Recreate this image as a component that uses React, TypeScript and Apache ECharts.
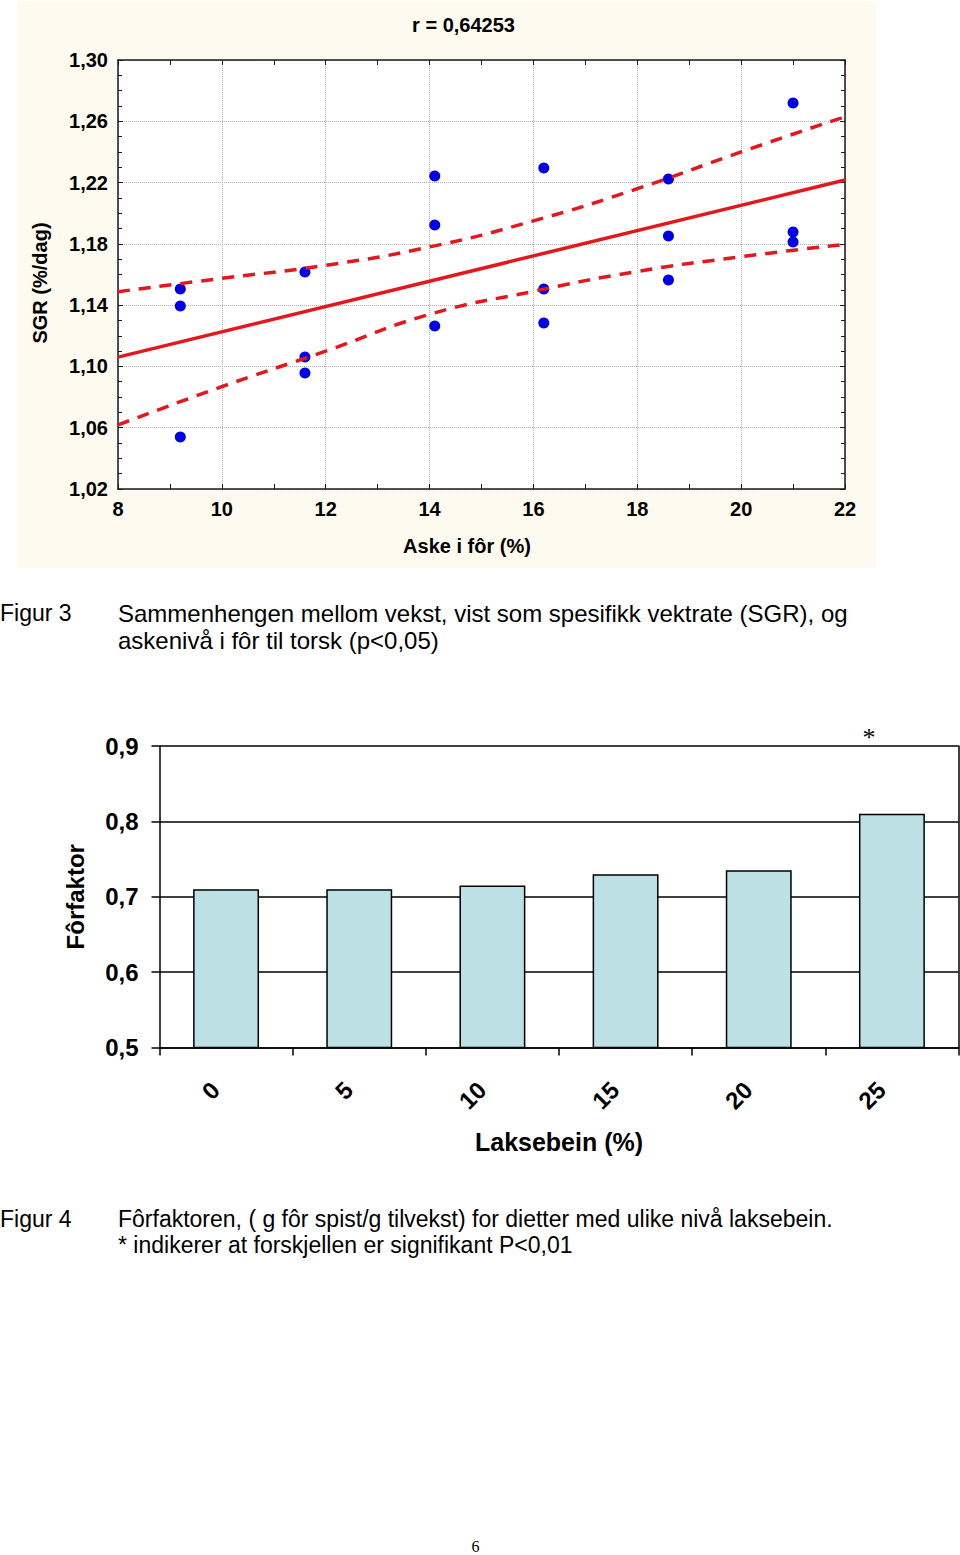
import React, { useEffect, useRef } from "react";
import * as echarts from "echarts";

// ---- Figure 3: scatter (ash in feed vs SGR) ----
const ashX = [9.2, 9.2, 9.2, 11.6, 11.6, 11.6, 14.1, 14.1, 14.1, 16.2, 16.2, 16.2, 18.6, 18.6, 18.6, 21.0, 21.0, 21.0];
const sgrY = [1.1505, 1.1394, 1.0539, 1.1616, 1.1061, 1.0957, 1.2243, 1.1923, 1.1264, 1.2295, 1.1505, 1.1283, 1.2223, 1.1851, 1.1564, 1.2719, 1.1877, 1.1812];
const fitX = [8, 22];
const fitY = [1.1061, 1.2217];
const bandX = [8, 10, 12, 14, 16, 18, 20, 22];
const bandUpper = [1.1488, 1.1575, 1.166, 1.178, 1.195, 1.216, 1.24, 1.263];
const bandLower = [1.0618, 1.0868, 1.11, 1.134, 1.149, 1.162, 1.1716, 1.1797];
const scatterTitle = "r = 0,64253";

// ---- Figure 4: bars ----
const barCats = ["0", "5", "10", "15", "20", "25"];
const barVals = [0.71, 0.71, 0.715, 0.73, 0.735, 0.81];

const SANS = "'Liberation Sans', Arial, Helvetica, sans-serif";
const SERIF = "'Liberation Serif', 'Times New Roman', serif";
const RED = "#E3171C";
const AX = "#1a1a1a";

const comma = (d: number) => (v: number) => v.toFixed(d).replace(".", ",");

export default function App() {
  const ref = useRef<HTMLDivElement>(null);
  useEffect(() => {
    if (!ref.current) return;
    const chart = echarts.init(ref.current, undefined, { renderer: "svg" });
    const zip = (xs: number[], ys: number[]) => xs.map((x, i) => [x, ys[i]]);
    const lab = (size: number) => ({ color: "#000", fontFamily: SANS, fontWeight: "bold" as const, fontSize: size });
    const scatterX = (pos: "bottom" | "top") => ({
      type: "value", gridIndex: 0, position: pos, min: 8, max: 22, interval: 2,
      axisLine: { show: true, onZero: false, lineStyle: { color: AX, width: 1.5 } },
      axisTick: { show: true, inside: true, length: 5, lineStyle: { color: AX, width: 1 } },
      minorTick: { show: true, splitNumber: 2, length: 5, lineStyle: { color: AX, width: 1 } },
      axisLabel: { show: pos === "bottom", margin: 10, ...lab(20) },
      splitLine: { show: pos === "bottom", lineStyle: { type: "dotted", color: "#b0b0b0", width: 1 } },
    });
    const scatterY = (pos: "left" | "right") => ({
      type: "value", gridIndex: 0, position: pos, min: 1.02, max: 1.30, interval: 0.04,
      axisLine: { show: true, onZero: false, lineStyle: { color: AX, width: 1.5 } },
      axisTick: { show: true, inside: true, length: 5, lineStyle: { color: AX, width: 1 } },
      minorTick: { show: true, splitNumber: 4, length: 4, lineStyle: { color: AX, width: 1 } },
      axisLabel: { show: pos === "left", margin: 10, formatter: comma(2), ...lab(20) },
      splitLine: { show: pos === "left", lineStyle: { type: "dotted", color: "#b0b0b0", width: 1 } },
    });
    const cap = (x: number, y: number, text: string, size: number) => ({
      type: "text", x, y, style: { text, textVerticalAlign: "middle", font: `${size}px ${SANS}`, fill: "#000" },
    });
    const option: any = {
      animation: false,
      backgroundColor: "#ffffff",
      grid: [
        { left: 118, top: 60, width: 727, height: 429, show: true, backgroundColor: "#ffffff", borderWidth: 0 },
        { left: 159.5, top: 746, width: 799, height: 301.5 },
      ],
      xAxis: [
        { ...scatterX("bottom"), name: "Aske i fôr (%)", nameLocation: "middle", nameGap: 47,
          nameTextStyle: { ...lab(20), padding: [0, 29, 0, 0] } },
        scatterX("top"),
        {
          type: "category", gridIndex: 1, data: barCats,
          axisLine: { show: true, lineStyle: { color: "#000", width: 1.5 } },
          axisTick: { show: true, inside: false, length: 8, lineStyle: { color: "#000", width: 1.5 } },
          axisLabel: { rotate: 45, margin: 49, verticalAlign: "bottom", lineHeight: 30, ...lab(24) },
          name: "Laksebein (%)", nameLocation: "middle", nameGap: 82, nameTextStyle: lab(25),
        },
      ],
      yAxis: [
        { ...scatterY("left"), name: "SGR (%/dag)", nameLocation: "middle", nameGap: 68,
          nameTextStyle: { ...lab(20), padding: [0, 17, 0, 0] } },
        scatterY("right"),
        {
          type: "value", gridIndex: 1, min: 0.5, max: 0.9, interval: 0.1,
          axisLine: { show: true, lineStyle: { color: "#000", width: 1.5 } },
          axisTick: { show: true, inside: false, length: 8, lineStyle: { color: "#000", width: 1.5 } },
          axisLabel: { margin: 21, formatter: comma(1), ...lab(24) },
          splitLine: { show: true, lineStyle: { color: "#000", width: 1.5 } },
          name: "Fôrfaktor", nameLocation: "middle", nameGap: 72, nameTextStyle: lab(24),
        },
        {
          type: "value", gridIndex: 1, position: "right", min: 0.5, max: 0.9, interval: 0.1,
          axisLine: { show: true, lineStyle: { color: "#000", width: 1.5 } },
          axisTick: { show: false }, axisLabel: { show: false }, splitLine: { show: false },
        },
      ],
      series: [
        {
          type: "scatter", xAxisIndex: 0, yAxisIndex: 0, data: zip(ashX, sgrY),
          symbolSize: 11, itemStyle: { color: "#0000E8", opacity: 1 },
        },
        {
          type: "line", xAxisIndex: 0, yAxisIndex: 0, data: zip(fitX, fitY), symbol: "none",
          lineStyle: { color: RED, width: 3.5 },
        },
        {
          type: "line", xAxisIndex: 0, yAxisIndex: 0, data: zip(bandX, bandUpper), symbol: "none", smooth: true,
          lineStyle: { color: RED, width: 3.5, type: [12, 9] },
        },
        {
          type: "line", xAxisIndex: 0, yAxisIndex: 0, data: zip(bandX, bandLower), symbol: "none", smooth: true,
          lineStyle: { color: RED, width: 3.5, type: [12, 9] },
        },
        {
          type: "bar", xAxisIndex: 2, yAxisIndex: 2, data: barVals, barWidth: "49.5%",
          itemStyle: { color: "#BCE0E3", borderColor: "#000", borderWidth: 1.5 },
        },
      ],
      graphic: [
        { type: "rect", z: -10, shape: { x: 17, y: 1, width: 859, height: 567 }, style: { fill: "#FEFAF0" } },
        { type: "text", x: 463.5, y: 25, style: { text: scatterTitle, textAlign: "center", textVerticalAlign: "middle", font: `bold 20px ${SANS}`, fill: "#000" } },
        cap(0, 613, "Figur 3", 23),
        cap(118, 613, "Sammenhengen mellom vekst, vist som spesifikk vektrate (SGR), og", 24),
        cap(118, 640, "askenivå i fôr til torsk (p<0,05)", 24),
        { type: "text", x: 869, y: 737, style: { text: "*", textAlign: "center", textVerticalAlign: "middle", font: `26px ${SERIF}`, fill: "#000" } },
        cap(0, 1219, "Figur 4", 23),
        cap(118, 1219, "Fôrfaktoren, ( g fôr spist/g tilvekst) for dietter med ulike nivå laksebein.", 23),
        cap(118, 1245, "* indikerer at forskjellen er signifikant P<0,01", 23),
        { type: "text", x: 475.5, y: 1546, style: { text: "6", textAlign: "center", textVerticalAlign: "middle", font: `16px ${SERIF}`, fill: "#000" } },
      ],
    };
    chart.setOption(option);
    return () => chart.dispose();
  }, []);
  return (
    <div
      ref={ref}
      style={{ position: "absolute", left: 0, top: 0, width: 960, height: 1555, background: "#fff" }}
    />
  );
}
